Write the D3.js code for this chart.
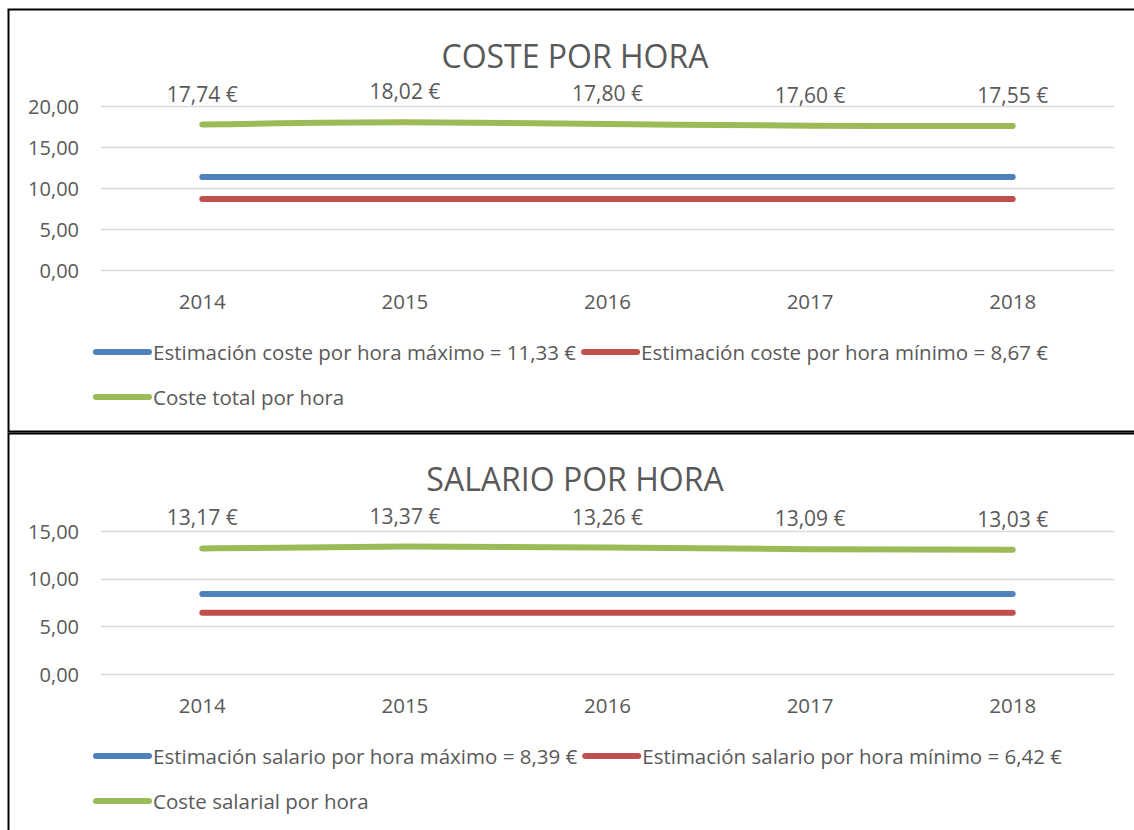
<!DOCTYPE html>
<html>
<head>
<meta charset="utf-8">
<script src="https://cdn.jsdelivr.net/npm/d3@7"></script>
<style>
  body { margin: 0; background: #fff; }
  text { font-family: 'Open Sans', sans-serif; fill: #595959; }
</style>
</head>
<body>
<script>
const w = 1134,
  h = 830;

// shared categories
const years = ['2014', '2015', '2016', '2017', '2018'];

// panel 1: coste por hora
const costeTitle = 'COSTE POR HORA';
const costeMax = [11.33, 11.33, 11.33, 11.33, 11.33];
const costeMin = [8.67, 8.67, 8.67, 8.67, 8.67];
const costeTotal = [17.74, 18.02, 17.80, 17.60, 17.55];
const costeTicks = [0, 5, 10, 15, 20];
const costeNames = [
  'Estimación coste por hora máximo = 11,33 €',
  'Estimación coste por hora mínimo = 8,67 €',
  'Coste total por hora'
];

// panel 2: salario por hora
const salarioTitle = 'SALARIO POR HORA';
const salarioMax = [8.39, 8.39, 8.39, 8.39, 8.39];
const salarioMin = [6.42, 6.42, 6.42, 6.42, 6.42];
const salarioTotal = [13.17, 13.37, 13.26, 13.09, 13.03];
const salarioTicks = [0, 5, 10, 15];
const salarioNames = [
  'Estimación salario por hora máximo = 8,39 €',
  'Estimación salario por hora mínimo = 6,42 €',
  'Coste salarial por hora'
];

const colors = ['#4F81BD', '#C0504D', '#9BBB59'];
const fmt = v => d3.format('.2f')(v).replace('.', ',');

const svg = d3.select('body')
  .append('svg')
  .attr('width', w)
  .attr('height', h);

function drawPanel(cfg) {
  const g = svg.append('g');

  // frame
  g.append('rect')
    .attr('x', 8.5)
    .attr('y', cfg.top + 0.5)
    .attr('width', w + 10)
    .attr('height', cfg.bottom - cfg.top)
    .attr('fill', 'none')
    .attr('stroke', '#000')
    .attr('stroke-width', 2);

  g.append('text')
    .attr('x', 575)
    .attr('y', cfg.titleY)
    .attr('text-anchor', 'middle')
    .attr('dominant-baseline', 'central')
    .attr('font-size', '32px')
    .text(cfg.title);

  const x = d3.scaleBand()
    .domain(years)
    .range([101, 1114]);

  const y = d3.scaleLinear()
    .domain(d3.extent(cfg.ticks))
    .range(cfg.yRange);

  // gridlines
  g.selectAll('line.grid')
    .data(cfg.ticks)
    .enter()
    .append('line')
    .attr('class', 'grid')
    .attr('x1', 101)
    .attr('x2', 1114)
    .attr('y1', d => Math.round(y(d)) + 0.5)
    .attr('y2', d => Math.round(y(d)) + 0.5)
    .attr('stroke', '#D9D9D9')
    .attr('stroke-width', 1.5);

  // y axis labels
  g.selectAll('text.ytick')
    .data(cfg.ticks)
    .enter()
    .append('text')
    .attr('class', 'ytick')
    .attr('x', 79)
    .attr('y', d => y(d))
    .attr('text-anchor', 'end')
    .attr('dominant-baseline', 'central')
    .attr('font-size', '20px')
    .text(fmt);

  // x axis labels
  g.selectAll('text.xtick')
    .data(years)
    .enter()
    .append('text')
    .attr('class', 'xtick')
    .attr('x', d => x(d) + x.bandwidth() / 2)
    .attr('y', y(0) + 31)
    .attr('text-anchor', 'middle')
    .attr('dominant-baseline', 'central')
    .attr('font-size', '20.5px')
    .text(d => d);

  const line = d3.line()
    .x((_, i) => x(years[i]) + x.bandwidth() / 2)
    .y(d => y(d))
    .curve(d3.curveMonotoneX);

  g.selectAll('path.series')
    .data(cfg.series)
    .enter()
    .append('path')
    .attr('class', 'series')
    .attr('d', line)
    .attr('fill', 'none')
    .attr('stroke', (_, i) => colors[i])
    .attr('stroke-width', 6)
    .attr('stroke-linecap', 'round')
    .attr('stroke-linejoin', 'round');

  // data labels on the total series
  const total = cfg.series[2];
  g.selectAll('text.label')
    .data(total)
    .enter()
    .append('text')
    .attr('class', 'label')
    .attr('x', (_, i) => x(years[i]) + x.bandwidth() / 2)
    .attr('y', d => y(d) - 31)
    .attr('text-anchor', 'middle')
    .attr('dominant-baseline', 'central')
    .attr('font-size', '21px')
    .text(d => fmt(d) + ' €');

  // legend
  let lx = 93;
  cfg.names.forEach((name, i) => {
    const row = i < 2 ? 0 : 1;
    if (i === 2) lx = 93;
    const ly = cfg.legendY[row];
    g.append('line')
      .attr('x1', lx + 3)
      .attr('x2', lx + 56)
      .attr('y1', ly)
      .attr('y2', ly)
      .attr('stroke', colors[i])
      .attr('stroke-width', 6)
      .attr('stroke-linecap', 'round');
    const t = g.append('text')
      .attr('x', lx + 60)
      .attr('y', ly)
      .attr('dominant-baseline', 'central')
      .attr('font-size', '20.5px')
      .text(name);
    lx = lx + 60 + t.node().getComputedTextLength() + 5;
  });
}

drawPanel({
  top: 9,
  bottom: 431,
  title: costeTitle,
  titleY: 55,
  ticks: costeTicks,
  yRange: [270, 106],
  series: [costeMax, costeMin, costeTotal],
  names: costeNames,
  legendY: [352, 397]
});

drawPanel({
  top: 433,
  bottom: 840,
  title: salarioTitle,
  titleY: 478,
  ticks: salarioTicks,
  yRange: [674, 531],
  series: [salarioMax, salarioMin, salarioTotal],
  names: salarioNames,
  legendY: [756, 801]
});
</script>
</body>
</html>
